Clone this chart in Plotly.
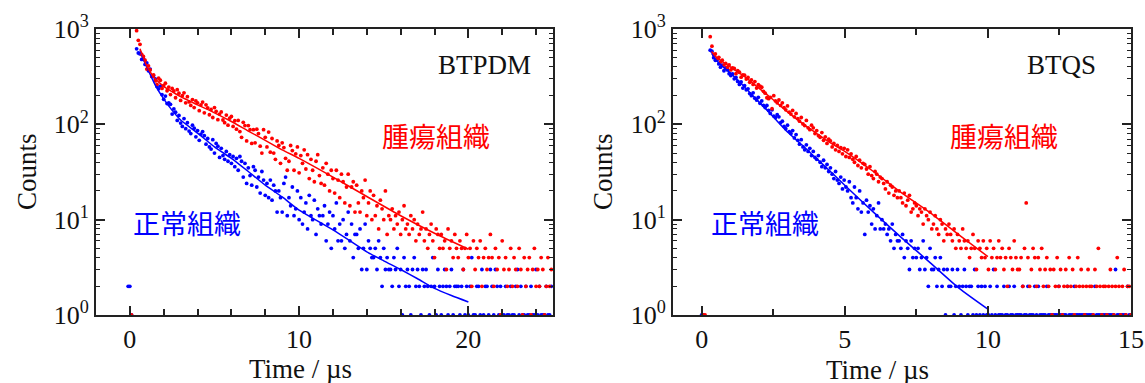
import numpy as np
import plotly.graph_objects as go

# ---------------- data ----------------
# Panel 1: BTPDM, time channels start at -0.1 us, width 0.1 us
T1_START, T1_STEP = -0.1, 0.1
BTPDM_TUMOR = [
    0, 0, 1, 0, 0,
    960, 760, 690, 540, 515, 470, 380, 410, 372, 318,
    330, 285, 262, 305, 290, 238, 255, 270, 225, 246,
    205, 238, 224, 190, 231, 212, 178, 200, 214, 168,
    195, 172, 158, 182, 150, 176, 168, 139, 160, 171,
    132, 160, 149, 126, 143, 118, 150, 137, 112, 128,
    135, 111, 104, 125, 98, 116, 121, 95, 109, 89,
    110, 84, 73, 105, 97, 67, 97, 88, 63, 88,
    64, 89, 80, 59, 50, 88, 73, 58, 83, 51,
    71, 50, 43, 67, 60, 39, 64, 57, 44, 33,
    41, 60, 53, 33, 49, 58, 31, 47, 39, 54,
    34, 48, 27, 43, 33, 25, 41, 48, 29, 24,
    35, 23, 39, 30, 20, 33, 27, 19, 33, 26,
    17, 30, 25, 15, 22, 30, 14, 22, 25, 12,
    23, 15, 12, 20, 17, 26, 11, 15, 20, 10,
    18, 11, 14, 8, 16, 13, 10, 20, 7, 11,
    10, 13, 8, 11, 9, 12, 7, 10, 14, 8,
    9, 7, 11, 8, 10, 6, 9, 7, 8, 12,
    6, 8, 5, 7, 9, 6, 4, 8, 7, 5,
    7, 5, 6, 3, 8, 5, 6, 4, 7, 5,
    4, 6, 5, 3, 5, 7, 4, 5, 2, 6,
    3, 5, 4, 6, 2, 4, 5, 3, 4, 7,
    4, 2, 5, 3, 4, 1, 6, 3, 4, 2,
    3, 5, 2, 4, 3, 2, 5, 3, 1, 4,
    2, 3, 4, 1, 3, 5, 2, 3, 2, 4,
    3, 1, 2, 4, 2, 3,
]
BTPDM_NORMAL = [
    2, 2, 1, 0, 0,
    620, 560, 548, 480, 492, 425, 440, 365, 380, 318,
    325, 300, 250, 236, 252, 205, 183, 198, 165, 168,
    162, 128, 145, 134, 110, 124, 103, 95, 115, 90,
    104, 85, 80, 98, 91, 74, 86, 68, 79, 84,
    76, 62, 71, 58, 55, 69, 50, 63, 59, 45,
    56, 47, 43, 52, 41, 48, 39, 46, 36, 44,
    33, 46, 41, 28, 39, 24, 35, 29, 23, 36,
    33, 22, 28, 19, 32, 26, 18, 24, 17, 26,
    16, 23, 20, 12, 20, 17, 12, 24, 28, 11,
    17, 14, 22, 11, 13, 20, 10, 17, 9, 12,
    15, 8, 18, 11, 10, 16, 7, 13, 11, 9,
    11, 14, 6, 9, 12, 5, 11, 8, 15, 6,
    9, 6, 10, 5, 7, 12, 6, 9, 4, 7,
    7, 5, 8, 3, 5, 9, 3, 6, 5, 4,
    4, 5, 3, 6, 4, 2, 5, 3, 4, 3,
    3, 2, 4, 3, 5, 2, 3, 1, 4, 2,
    3, 2, 1, 3, 4, 2, 3, 2, 1, 3,
    2, 3, 2, 1, 2, 4, 2, 1, 3, 2,
    1, 2, 3, 2, 1, 2, 3, 1, 2, 2,
    2, 1, 2, 3, 1, 2, 1, 2, 4, 1,
    1, 2, 2, 1, 3, 1, 2, 2, 1, 3,
    2, 1, 3, 2, 1, 2, 1, 1, 2, 1,
    1, 2, 1, 1, 2, 3, 1, 2, 1, 1,
    2, 1, 1, 2, 1, 1, 3, 1, 2, 1,
    1, 1, 2, 1, 1, 2,
]
BTPDM_FIT_TUMOR_T = [0.6, 0.8, 1, 1.25, 1.5, 2, 2.5, 3, 4, 5, 6, 7, 8, 9, 10, 12, 14, 16, 18, 20]
BTPDM_FIT_TUMOR = [620, 500, 410, 345, 300, 250, 220, 195, 160, 132, 107, 85, 68, 54, 44, 28, 17.5, 11, 7.2, 4.9]
BTPDM_FIT_NORMAL_T = [0.6, 0.8, 1, 1.25, 1.5, 2, 2.5, 3, 4, 5, 6, 7, 8, 9, 10, 11, 12, 13, 14, 15, 16, 17, 18, 19, 20]
BTPDM_FIT_NORMAL = [600, 480, 400, 320, 258, 185, 140, 111, 81, 58, 44, 32, 23, 17.3, 12.6, 9.9, 7.8, 6.0, 4.6, 3.7, 3.0, 2.4, 1.9, 1.6, 1.37]

# Panel 2: BTQS, time channels start at 0 us, width 0.06 us
T2_START, T2_STEP = 0.0, 0.06
BTQS_TUMOR = [
    0, 1, 1, 0, 0,
    830, 660, 540, 548, 488, 505, 450, 470, 418, 436,
    395, 420, 372, 390, 385, 340, 366, 352, 312, 330,
    328, 298, 310, 276, 292, 262, 281, 240, 260, 252,
    245, 222, 212, 190, 186, 192, 146, 200, 176, 168,
    180, 158, 168, 150, 142, 156, 134, 128, 140, 120,
    130, 115, 108, 118, 101, 97, 110, 92, 88, 98,
    92, 80, 86, 76, 73, 82, 68, 74, 63, 70,
    67, 58, 63, 54, 60, 52, 57, 49, 56, 46,
    54, 45, 49, 43, 40, 46, 37, 42, 35, 39,
    38, 34, 30, 36, 29, 27, 32, 30, 25, 28,
    27, 24, 21, 25, 19, 23, 22, 18, 20, 17,
    20, 17, 15, 19, 14, 16, 18, 12, 13, 15,
    14, 11, 13, 12, 9, 13, 11, 10, 12, 8,
    9, 11, 8, 7, 10, 9, 6, 8, 7, 9,
    7, 6, 8, 5, 7, 6, 5, 8, 6, 5,
    6, 4, 5, 7, 5, 3, 6, 5, 4, 6,
    4, 5, 3, 6, 4, 5, 3, 4, 6, 4,
    5, 3, 4, 2, 5, 4, 3, 6, 4, 3,
    3, 4, 2, 5, 15, 4, 2, 3, 5, 4,
    2, 4, 3, 5, 2, 3, 4, 2, 3, 1,
    3, 2, 4, 2, 3, 1, 2, 3, 2, 4,
    2, 3, 1, 2, 4, 2, 3, 2, 1, 2,
    3, 2, 2, 1, 3, 2, 5, 2, 1, 2,
    2, 1, 2, 3, 2, 1, 2, 4, 2, 1,
    2, 3, 1, 2, 2, 1,
]
BTQS_NORMAL = [
    1, 1, 0, 0, 0,
    600, 585, 500, 470, 472, 430, 398, 418, 365, 390,
    372, 340, 325, 338, 300, 310, 282, 262, 278, 240,
    255, 230, 236, 210, 200, 214, 188, 180, 192, 166,
    176, 158, 150, 158, 140, 130, 142, 122, 118, 126,
    120, 104, 108, 95, 90, 98, 84, 80, 86, 72,
    78, 68, 62, 69, 58, 54, 61, 52, 56, 47,
    52, 45, 43, 47, 40, 36, 42, 35, 38, 32,
    35, 30, 27, 32, 26, 24, 28, 21, 26, 22,
    20, 25, 17, 15, 22, 17, 13, 20, 12, 15,
    7, 16, 12, 14, 9, 13, 8, 11, 15, 8,
    10, 8, 9, 7, 8, 6, 9, 5, 7, 6,
    6, 5, 7, 4, 6, 5, 3, 6, 4, 5,
    4, 5, 3, 4, 6, 3, 4, 2, 5, 3,
    3, 4, 2, 3, 4, 2, 3, 1, 3, 2,
    2, 3, 1, 2, 3, 2, 1, 2, 3, 2,
    1, 2, 2, 1, 3, 1, 2, 1, 2, 1,
    2, 1, 1, 2, 1, 3, 1, 2, 1, 1,
    1, 2, 1, 1, 2, 1, 1, 2, 1, 1,
    1, 1, 2, 1, 1, 2, 1, 1, 1, 2,
    1, 2, 1, 1, 1, 1, 2, 1, 1, 1,
    1, 1, 1, 2, 1, 1, 1, 1, 2, 1,
    1, 1, 2, 1, 1, 1, 1, 1, 1, 1,
    1, 1, 1, 1, 2, 1, 1, 1, 1, 1,
    1, 1, 1, 1, 1, 1, 3, 1, 1, 1,
    1, 1, 1, 2, 1, 1,
]
BTQS_FIT_T = [0.35, 0.5, 0.75, 1, 1.5, 2, 2.5, 3, 3.5, 4, 4.5, 5, 6, 7, 8, 9, 10]
BTQS_FIT_TUMOR = [580, 510, 450, 400, 316, 240, 181, 135, 103, 81, 64, 52, 32, 19, 11.7, 6.9, 4.1]
BTQS_FIT_NORMAL = [560, 475, 400, 347, 246, 172, 120, 83, 61, 44, 32, 23, 12, 6.4, 3.5, 1.9, 1.15]

Y_TICKS = [1, 10, 100, 1000]
Y_TICKTEXT = ["10<sup>0</sup>", "10<sup>1</sup>", "10<sup>2</sup>", "10<sup>3</sup>"]
LABEL_TUMOR = "腫瘍組織"
LABEL_NORMAL = "正常組織"

RED = "#ff0000"
BLUE = "#0000ff"
SERIF = "Liberation Serif, Times New Roman, serif"
CJK = "Noto Sans CJK JP"


def channel_points(start, step, counts):
    t = np.round(start + step * np.arange(len(counts)), 4)
    c = np.asarray(counts, dtype=float)
    keep = c > 0
    return t[keep], c[keep]


fig = go.Figure()

panels = [
    dict(xa="x", ya="y", start=T1_START, step=T1_STEP, tumor=BTPDM_TUMOR, normal=BTPDM_NORMAL,
         fits=[(BTPDM_FIT_NORMAL_T, BTPDM_FIT_NORMAL, BLUE), (BTPDM_FIT_TUMOR_T, BTPDM_FIT_TUMOR, RED)]),
    dict(xa="x2", ya="y2", start=T2_START, step=T2_STEP, tumor=BTQS_TUMOR, normal=BTQS_NORMAL,
         fits=[(BTQS_FIT_T, BTQS_FIT_NORMAL, BLUE), (BTQS_FIT_T, BTQS_FIT_TUMOR, RED)]),
]

for p in panels:
    for counts, col in [(p["normal"], BLUE), (p["tumor"], RED)]:
        t, c = channel_points(p["start"], p["step"], counts)
        fig.add_trace(go.Scatter(x=t, y=c, mode="markers", xaxis=p["xa"], yaxis=p["ya"],
                                 marker=dict(color=col, size=3.8, line=dict(width=0)),
                                 cliponaxis=False, showlegend=False, hoverinfo="skip"))
    for ft, fv, col in p["fits"]:
        fig.add_trace(go.Scatter(x=ft, y=fv, mode="lines", xaxis=p["xa"], yaxis=p["ya"],
                                 line=dict(color=col, width=1.5, shape="spline", smoothing=0.6),
                                 showlegend=False, hoverinfo="skip"))

AX_COL = "#222222"
common_x = dict(showgrid=False, zeroline=False, showline=True, linecolor=AX_COL, linewidth=2,
                mirror="allticks", ticks="inside", ticklen=9, tickwidth=1.5, tickcolor=AX_COL,
                automargin=False, tickfont=dict(family=SERIF, size=26, color="#111"))
common_y = dict(type="log", range=[0, 3], showgrid=False, zeroline=False, showline=True,
                linecolor=AX_COL, linewidth=2, mirror="allticks", ticks="inside", ticklen=9,
                tickwidth=1.5, tickcolor=AX_COL, tickmode="array", tickvals=Y_TICKS,
                automargin=False, ticktext=Y_TICKTEXT, tickfont=dict(family=SERIF, size=26, color="#111"),
                minor=dict(ticks="inside", ticklen=4, tickwidth=1, tickcolor=AX_COL,
                           tickmode="array",
                           tickvals=[m * d for d in (1, 10, 100) for m in range(2, 10)]))

H = 383.0
W = 1145.0
ydom = [1 - 315 / H, 1 - 29 / H]
fig.update_layout(
    width=1145, height=383, margin=dict(l=0, r=0, t=0, b=0, pad=0, autoexpand=False),
    paper_bgcolor="white", plot_bgcolor="white",
    xaxis=dict(domain=[96 / W, 553 / W], range=[-2, 25], tickmode="array", tickvals=[0, 10, 20],
               minor=dict(ticks="inside", ticklen=6, tickwidth=1.5, tickcolor=AX_COL, tickmode="array",
                          tickvals=[2, 4, 6, 8, 12, 14, 16, 18, 22, 24]),
               anchor="y", **common_x),
    yaxis=dict(domain=ydom, anchor="x", **common_y),
    xaxis2=dict(domain=[673 / W, 1131 / W], range=[-1, 15], tickmode="array", tickvals=[0, 5, 10, 15],
                minor=dict(ticks="inside", ticklen=6, tickwidth=1.5, tickcolor=AX_COL, tickmode="array",
                           tickvals=[2.5, 7.5, 12.5]),
                anchor="y2", **common_x),
    yaxis2=dict(domain=ydom, anchor="x2", **common_y),
)

ann = []
for xa, ya, name, nx, tx, ux in [("x", "y", "BTPDM", 0.851, 0.744, 0.199),
                                 ("x2", "y2", "BTQS", 0.849, 0.723, 0.201)]:
    for text, x, y, fam, col in [(name, nx, 0.874, SERIF, "#111"),
                                 (LABEL_TUMOR, tx, 0.627, CJK, RED),
                                 (LABEL_NORMAL, ux, 0.325, CJK, BLUE)]:
        ann.append(dict(xref=f"{xa} domain", yref=f"{ya} domain", x=x, y=y, text=text,
                        xanchor="center", yanchor="middle", showarrow=False,
                        font=dict(family=fam, size=27, color=col)))

for cx in (27, 603):
    ann.append(dict(xref="paper", yref="paper", x=cx / W, y=1 - 172 / H, text="Counts", textangle=-90,
                    xanchor="center", yanchor="middle",
                    showarrow=False, font=dict(family=SERIF, size=27, color="#111")))
for cx, cy in ((300, 369), (877, 370)):
    ann.append(dict(xref="paper", yref="paper", x=cx / W, y=1 - cy / H, text="Time / µs",
                    xanchor="center", yanchor="middle",
                    showarrow=False, font=dict(family=SERIF, size=27, color="#111")))
fig.update_layout(annotations=ann)

fig.write_html("out.html", config={"displayModeBar": False},
               post_script="document.body.style.margin='0';document.body.style.overflow='hidden';")
